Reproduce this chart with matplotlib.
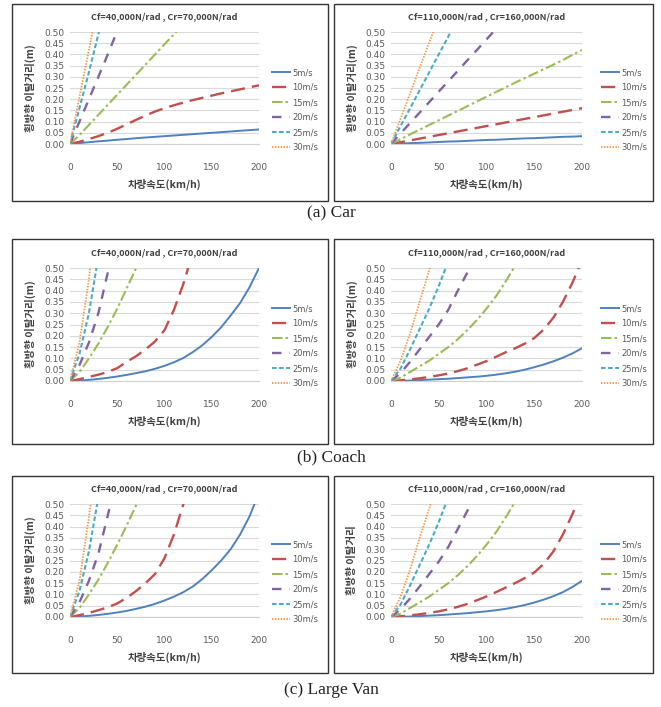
import matplotlib
matplotlib.use('Agg')
import matplotlib.pyplot as plt
from matplotlib.patches import Rectangle

# vehicle speed (km/h), shared by all series
speed = list(range(0, 201, 10))
wind_labels = ['5m/s', '10m/s', '15m/s', '20m/s', '25m/s', '30m/s']
titles = ['Cf=40,000N/rad , Cr=70,000N/rad', 'Cf=110,000N/rad , Cr=160,000N/rad']
captions = ['(a) Car', '(b) Coach', '(c) Large Van']
x_ticks = [0, 50, 100, 150, 200]
y_ticks = [0.00, 0.05, 0.10, 0.15, 0.20, 0.25, 0.30, 0.35, 0.40, 0.45, 0.50]

# lateral deviation (m), one list per wind speed (steep ones stop past 0.5)
car_soft = [
    [0, .004, .008, .012, .015, .019, .022, .026, .029, .032, .035,
     .038, .041, .044, .047, .050, .053, .056, .059, .062, .065],
    [0, .010, .022, .035, .050, .068, .088, .108, .127, .145, .160,
     .173, .185, .196, .206, .216, .226, .235, .244, .253, .262],
    [0, .040, .085, .130, .175, .220, .265, .310, .355, .400, .445, .490, .535],
    [0, .100, .200, .300, .400, .505],
    [0, .160, .320, .490, .650],
    [0, .210, .420, .630],
]
car_stiff = [
    [0, .002, .004, .005, .007, .009, .011, .012, .014, .016, .018,
     .019, .021, .023, .025, .026, .028, .030, .032, .033, .035],
    [0, .008, .016, .024, .032, .040, .048, .056, .064, .072, .080,
     .088, .096, .104, .112, .120, .128, .136, .144, .152, .160],
    [0, .021, .043, .064, .085, .106, .127, .148, .169, .190, .211,
     .232, .253, .274, .294, .314, .334, .354, .375, .398, .420],
    [0, .047, .094, .140, .187, .234, .280, .327, .374, .420, .467, .514],
    [0, .080, .160, .240, .320, .400, .480, .560],
    [0, .113, .226, .340, .453, .566],
]
coach_soft = [
    [0, .002, .005, .009, .014, .020, .027, .035, .043, .054, .067,
     .083, .102, .128, .158, .195, .238, .290, .345, .415, .500],
    [0, .008, .018, .028, .040, .057, .085, .110, .140, .175, .225,
     .315, .430, .570],
    [0, .040, .100, .165, .240, .320, .410, .500, .600],
    [0, .070, .170, .300, .480, .650],
    [0, .120, .300, .550],
    [0, .170, .450, .800],
]
coach_stiff = [
    [0, .001, .002, .004, .006, .008, .010, .013, .016, .019, .023,
     .028, .034, .041, .050, .061, .073, .087, .103, .122, .145],
    [0, .003, .007, .012, .018, .025, .033, .044, .056, .072, .088,
     .107, .127, .145, .165, .190, .228, .280, .350, .435, .535],
    [0, .015, .040, .065, .090, .120, .150, .185, .225, .270, .320,
     .375, .440, .510],
    [0, .035, .085, .140, .195, .250, .315, .400, .480, .580],
    [0, .055, .140, .230, .320, .420, .530],
    [0, .090, .210, .350, .490, .640],
]
van_soft = [
    [0, .002, .005, .009, .014, .020, .027, .036, .046, .058, .073,
     .090, .110, .135, .168, .207, .250, .300, .365, .445, .550],
    [0, .008, .018, .030, .043, .060, .085, .115, .150, .190, .260,
     .365, .500, .650],
    [0, .040, .100, .165, .240, .320, .405, .495, .600],
    [0, .065, .160, .280, .450, .620],
    [0, .115, .290, .530],
    [0, .160, .440, .780],
]
van_stiff = [
    [0, .001, .002, .004, .006, .008, .011, .014, .017, .021, .025,
     .030, .036, .044, .053, .064, .077, .092, .110, .133, .160],
    [0, .003, .007, .012, .018, .025, .034, .045, .058, .074, .091,
     .110, .130, .150, .172, .197, .235, .290, .365, .455, .560],
    [0, .015, .040, .065, .090, .120, .150, .185, .225, .270, .320,
     .375, .440, .510],
    [0, .034, .082, .135, .190, .245, .310, .390, .470, .570],
    [0, .055, .140, .230, .320, .420, .530],
    [0, .090, .210, .350, .480, .620],
]

colors = ['#4F81BD', '#C0504D', '#9BBB59', '#8064A2', '#4BACC6', '#F79646']
dashes = [None, (6, 3), (5, 1.5, 1.2, 1.5), (4, 3.5), (2.2, 1.2), (0.8, 0.8)]
widths = [1.4, 1.7, 1.5, 1.7, 1.5, 1.3]

W, H = 661, 707
fig = plt.figure(figsize=(W / 100, H / 100), dpi=100)
kfont = ['Noto Sans CJK KR', 'DejaVu Sans']


def fx(x):
    return x / W


def fy(y):
    return 1 - y / H


# pixel geometry: columns (box left, box right, plot left, plot right, ylabel x, legend x)
cols = [(12, 328, 70, 259, 30, 272), (334, 653, 391, 582, 352, 601)]
# rows (box top, box bottom, plot top, plot bottom, caption y)
rows = [(4, 201, 32, 144, 213), (239, 444, 268, 381, 457), (476, 673, 504, 617, 690)]

panels = [[car_soft, car_stiff], [coach_soft, coach_stiff], [van_soft, van_stiff]]

for r, (bt, bb, pt, pb, cy) in enumerate(rows):
    for c, (bl, br, pl, pr, ylx, lgx) in enumerate(cols):
        fig.add_artist(Rectangle((fx(bl), fy(bb)), (br - bl) / W, (bb - bt) / H,
                                 transform=fig.transFigure, fill=False,
                                 edgecolor='#333333', lw=1.0))
        ax = fig.add_axes([fx(pl), fy(pb), (pr - pl) / W, (pb - pt) / H])
        lines = []
        for k, vals in enumerate(panels[r][c]):
            ln, = ax.plot(speed[:len(vals)], vals, color=colors[k], lw=widths[k],
                          label=wind_labels[k])
            if dashes[k] is not None:
                ln.set_dashes(dashes[k])
            lines.append(ln)
        ax.set_xlim(0, 200)
        ax.set_ylim(0, 0.5)
        ax.set_xticks(x_ticks)
        ax.set_yticks(y_ticks)
        ax.set_yticklabels(['%.2f' % v for v in y_ticks])
        ax.yaxis.grid(True, color='#D9D9D9', lw=0.8)
        ax.set_axisbelow(True)
        for s in ['top', 'right', 'left']:
            ax.spines[s].set_visible(False)
        ax.spines['bottom'].set_color('#D0D0D0')
        ax.tick_params(length=0, labelsize=6.5, labelcolor='#595959')
        ax.tick_params(axis='x', pad=14)
        ax.tick_params(axis='y', pad=4)

        fig.text(fx((pl + pr) / 2), fy(pt - 15), titles[c], ha='center', va='center',
                 fontsize=6.5, fontweight='bold', color='#404040', family=kfont)
        fig.text(fx((pl + pr) / 2), fy(pb + 40), '차량속도(km/h)', ha='center',
                 va='center', fontsize=7.5, fontweight='bold', color='#404040', family=kfont)
        ylab = '횡방향 이탈거리' if (r == 2 and c == 1) else '횡방향 이탈거리(m)'
        fig.text(fx(ylx), fy((pt + pb) / 2), ylab, ha='center', va='center', rotation=90,
                 fontsize=7.5, fontweight='bold', color='#404040', family=kfont)

        ax.legend(handles=lines, loc='upper left',
                  bbox_to_anchor=(fx(lgx), fy(pt + 36)), bbox_transform=fig.transFigure,
                  frameon=False, fontsize=6, labelcolor='#595959',
                  handlelength=2.2, handletextpad=0.2, labelspacing=0.72,
                  borderpad=0, borderaxespad=0)
    fig.text(fx(331), fy(cy), captions[r], ha='center', va='center',
             fontsize=12.5, family='Liberation Serif', color='#222222')

fig.savefig('out.png', dpi=100)
